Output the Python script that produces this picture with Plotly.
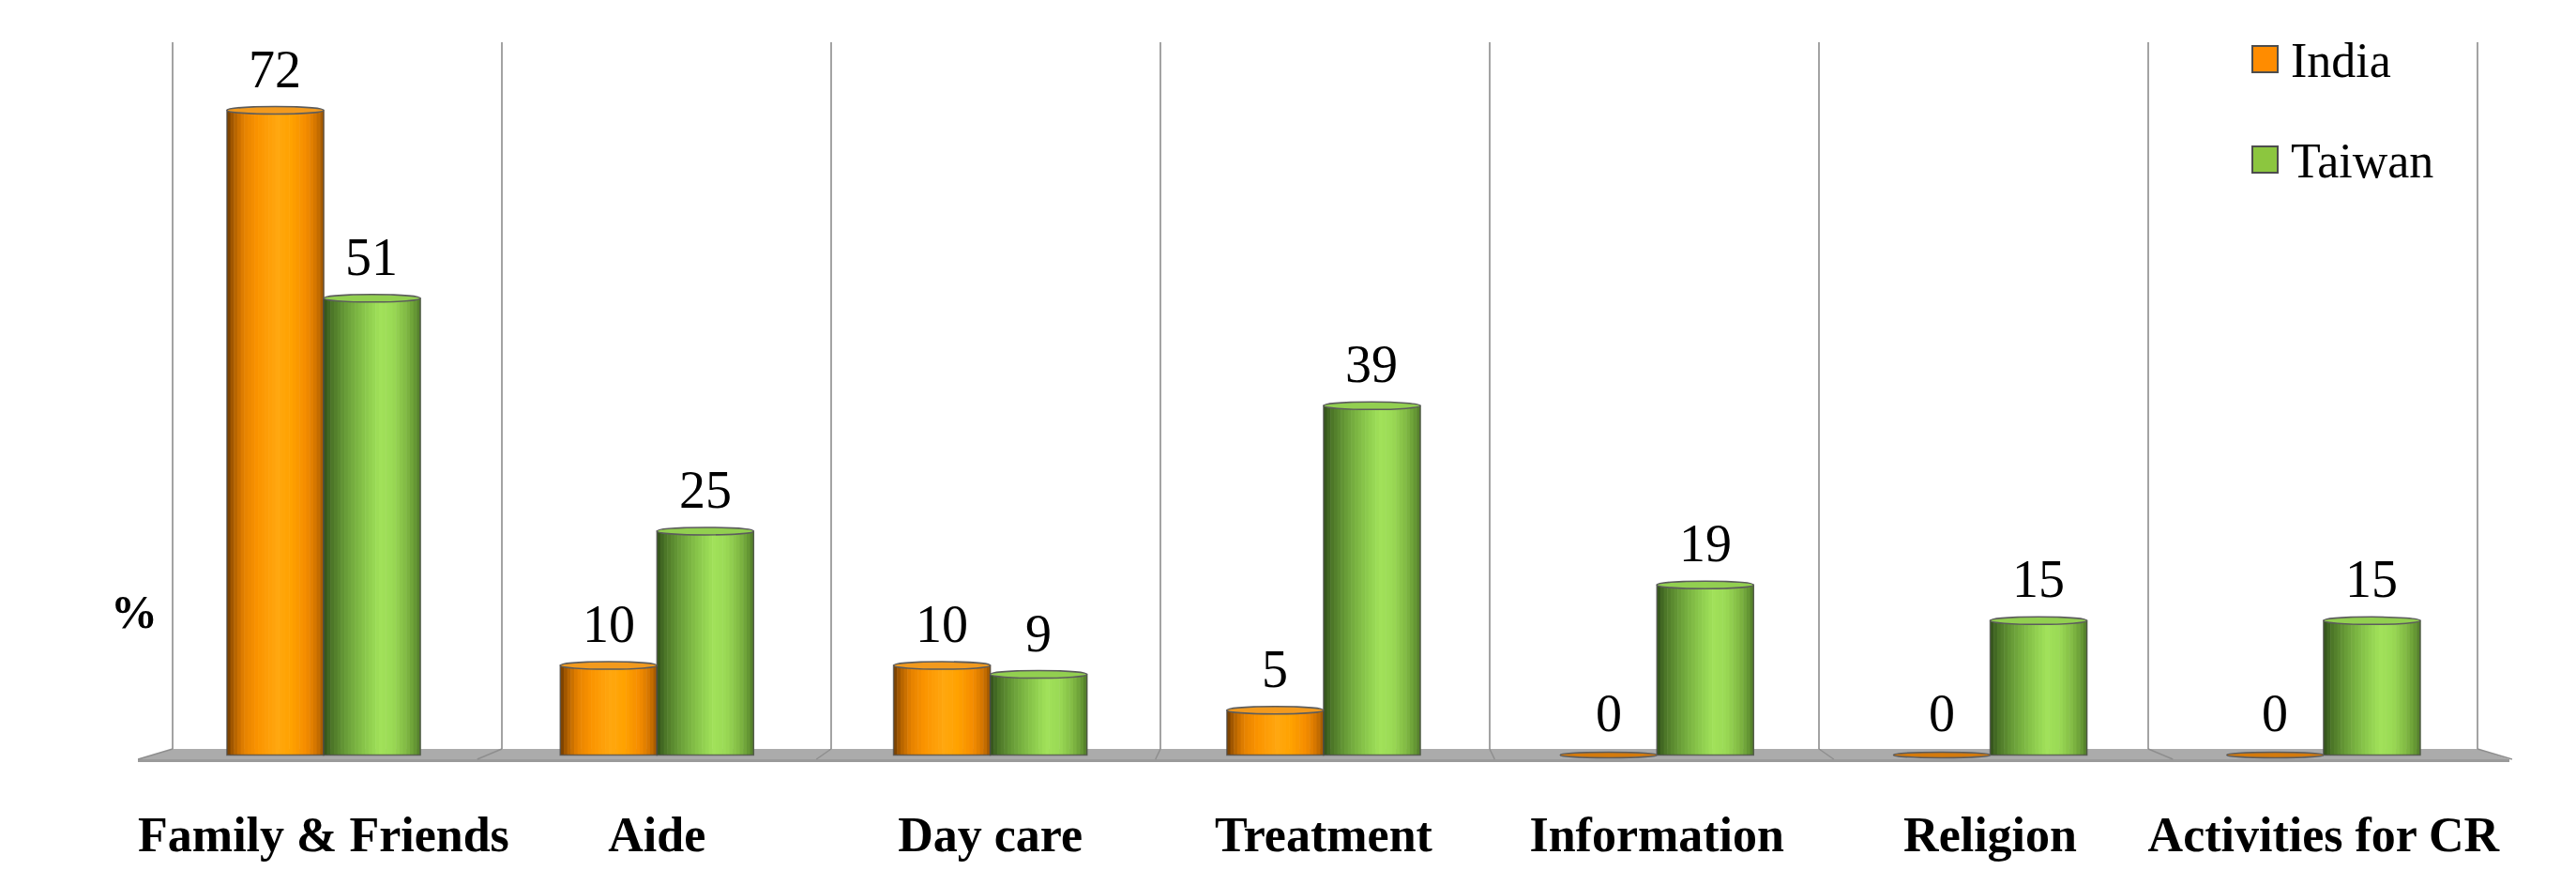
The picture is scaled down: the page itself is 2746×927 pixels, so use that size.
import plotly.graph_objects as go

# ---- data -------------------------------------------------------------
categories = ["Family & Friends", "Aide", "Day care", "Treatment",
              "Information", "Religion", "Activities for CR"]
india = [72, 10, 10, 5, 0, 0, 0]
taiwan = [51, 25, 9, 39, 19, 15, 15]
series_names = ["India", "Taiwan"]

# ---- styling ----------------------------------------------------------
W, H = 2746, 927
MARGIN_L, MARGIN_R, MARGIN_T, MARGIN_B = 184, 105, 45, 113
PLOT_BOTTOM = H - MARGIN_B
PLOT_RIGHT = W - MARGIN_R
SERIF = "Liberation Serif, Times New Roman, serif"

BAR_W = 0.29          # width of one cylinder in category units
N_STRIPES = 28        # vertical slices used to shade each cylinder
X_RANGE = [-0.453, 6.462]
Y_RANGE = [-1.0, 79.6]

# colour stops across a cylinder (left edge -> right edge)
ORANGE_STOPS = [(0.00, "#6e3a00"), (0.07, "#b06000"), (0.18, "#e68200"),
                (0.32, "#fb9400"), (0.52, "#ffa70f"), (0.66, "#ffa200"),
                (0.82, "#f58c00"), (0.93, "#cf7300"), (1.00, "#9a5400")]
GREEN_STOPS = [(0.00, "#31501a"), (0.08, "#4b7427"), (0.22, "#679a37"),
               (0.40, "#85c248"), (0.58, "#a1e25a"), (0.72, "#9ad955"),
               (0.86, "#80b843"), (0.95, "#649633"), (1.00, "#4f7a28")]
SERIES_STOPS = [ORANGE_STOPS, GREEN_STOPS]
SERIES_TOP = ["#f29a1e", "#92cf50"]
LEGEND_FILL = ["#ff8c00", "#8cc63f"]
SERIES_OFFSET = [-BAR_W, 0.0]


def hex_to_rgb(h):
    h = h.lstrip("#")
    return tuple(int(h[i:i + 2], 16) for i in (0, 2, 4))


def shade(stops, t):
    for (t0, c0), (t1, c1) in zip(stops[:-1], stops[1:]):
        if t0 <= t <= t1:
            f = (t - t0) / (t1 - t0) if t1 > t0 else 0
            a, b = hex_to_rgb(c0), hex_to_rgb(c1)
            r, g, bl = (round(a[i] + (b[i] - a[i]) * f) for i in range(3))
            return f"rgb({r},{g},{bl})"
    return stops[-1][1]


def px_x(px):
    return (px - MARGIN_L) / (PLOT_RIGHT - MARGIN_L)


def px_y(py):
    return (PLOT_BOTTOM - py) / (PLOT_BOTTOM - MARGIN_T)


x_idx = list(range(len(categories)))
fig = go.Figure()

# shaded cylinders, built from narrow slices of the same bar values
for s, values in enumerate([india, taiwan]):
    stripe_w = BAR_W / N_STRIPES
    for k in range(N_STRIPES):
        t = (k + 0.5) / N_STRIPES
        fig.add_trace(go.Bar(
            x=x_idx, y=values,
            width=stripe_w * 1.15,
            offset=SERIES_OFFSET[s] + k * stripe_w,
            marker=dict(color=shade(SERIES_STOPS[s], t), line=dict(width=0)),
            showlegend=False, hoverinfo="skip",
        ))
    # outline of each cylinder
    fig.add_trace(go.Bar(
        x=x_idx, y=values, width=BAR_W, offset=SERIES_OFFSET[s],
        marker=dict(color="rgba(0,0,0,0)",
                    line=dict(color="rgba(75,75,75,0.75)", width=1.5)),
        name=series_names[s], showlegend=False,
        hovertemplate="%{y}<extra>" + series_names[s] + "</extra>",
    ))

shapes = []

# floor of the 3-D box
FLOOR_BACK, FLOOR_FRONT, FLOOR_EDGE = 798, 809, 812
shapes.append(dict(
    type="path", xref="paper", yref="paper", layer="below",
    path=(f"M {px_x(184)},{px_y(FLOOR_BACK)} L {px_x(2641)},{px_y(FLOOR_BACK)} "
          f"L {px_x(2675)},{px_y(FLOOR_FRONT)} L {px_x(147)},{px_y(FLOOR_FRONT)} Z"),
    fillcolor="#ababab", line=dict(width=0),
))
shapes.append(dict(
    type="path", xref="paper", yref="paper", layer="below",
    path=(f"M {px_x(147)},{px_y(FLOOR_FRONT)} L {px_x(2675)},{px_y(FLOOR_FRONT)} "
          f"L {px_x(2675)},{px_y(FLOOR_EDGE)} L {px_x(147)},{px_y(FLOOR_EDGE)} Z"),
    fillcolor="#9a9a9a", line=dict(width=0),
))

# back-wall dividers between categories and their joints on the floor
n_cat = len(categories)
for k in range(n_cat + 1):
    gx = k / n_cat
    shapes.append(dict(
        type="line", xref="paper", yref="paper", layer="below",
        x0=gx, x1=gx, y0=px_y(FLOOR_BACK), y1=1,
        line=dict(color="#a3a3a3", width=2),
    ))
    gpx = MARGIN_L + gx * (PLOT_RIGHT - MARGIN_L)
    slant = (gpx - 1412) * 0.03
    shapes.append(dict(
        type="line", xref="paper", yref="paper", layer="below",
        x0=gx, x1=px_x(gpx + slant), y0=px_y(FLOOR_BACK), y1=px_y(FLOOR_FRONT),
        line=dict(color="#8e8e8e", width=1.5),
    ))

# elliptical cylinder tops (flat discs for zero values)
for s, values in enumerate([india, taiwan]):
    for i, v in enumerate(values):
        half = 3 if v == 0 else 4
        shapes.append(dict(
            type="circle", xref="x", yref="y", layer="above",
            ysizemode="pixel", yanchor=v, y0=-half, y1=half,
            x0=i + SERIES_OFFSET[s], x1=i + SERIES_OFFSET[s] + BAR_W,
            fillcolor=SERIES_TOP[s] if v > 0 else "#d47a0c",
            line=dict(color="#5c5c5c", width=1.5),
        ))

# custom legend
legend_rows = [63, 170]
for s, name in enumerate(series_names):
    cy = legend_rows[s]
    shapes.append(dict(
        type="rect", xref="paper", yref="paper",
        x0=px_x(2401), x1=px_x(2428), y0=px_y(cy + 14), y1=px_y(cy - 14),
        fillcolor=LEGEND_FILL[s], line=dict(color="#4d4d4d", width=2),
    ))

annotations = []
for s, name in enumerate(series_names):
    annotations.append(dict(
        xref="paper", yref="paper", x=px_x(2440), y=px_y(legend_rows[s] + 1),
        xanchor="left", yanchor="middle", showarrow=False, text=name,
        font=dict(family=SERIF, size=52, color="black"),
    ))

# value labels above each cylinder
for s, values in enumerate([india, taiwan]):
    for i, v in enumerate(values):
        annotations.append(dict(
            xref="x", yref="y", x=i + SERIES_OFFSET[s] + BAR_W / 2, y=v,
            xanchor="center", yanchor="bottom", yshift=11, showarrow=False,
            text=str(v), font=dict(family=SERIF, size=56, color="black"),
        ))

# axis unit label
annotations.append(dict(
    xref="paper", yref="paper", x=px_x(143), y=px_y(652),
    xanchor="center", yanchor="middle", showarrow=False,
    text="<b>%</b>", font=dict(family=SERIF, size=50, color="black"),
))

fig.update_layout(
    width=W, height=H, barmode="overlay",
    margin=dict(l=MARGIN_L, r=MARGIN_R, t=MARGIN_T, b=MARGIN_B,
                autoexpand=False),
    paper_bgcolor="white", plot_bgcolor="rgba(0,0,0,0)",
    showlegend=False, shapes=shapes, annotations=annotations,
    xaxis=dict(
        range=X_RANGE, tickmode="array", tickvals=x_idx,
        ticktext=[f"<b>{c}</b>" for c in categories],
        tickfont=dict(family=SERIF, size=52, color="black"),
        showgrid=False, zeroline=False, showline=False, ticks="",
        ticklabelstandoff=40, automargin=False,
    ),
    yaxis=dict(range=Y_RANGE, showgrid=False, zeroline=False,
               showticklabels=False, showline=False, ticks="",
               automargin=False),
)

fig.write_html("out.html")
